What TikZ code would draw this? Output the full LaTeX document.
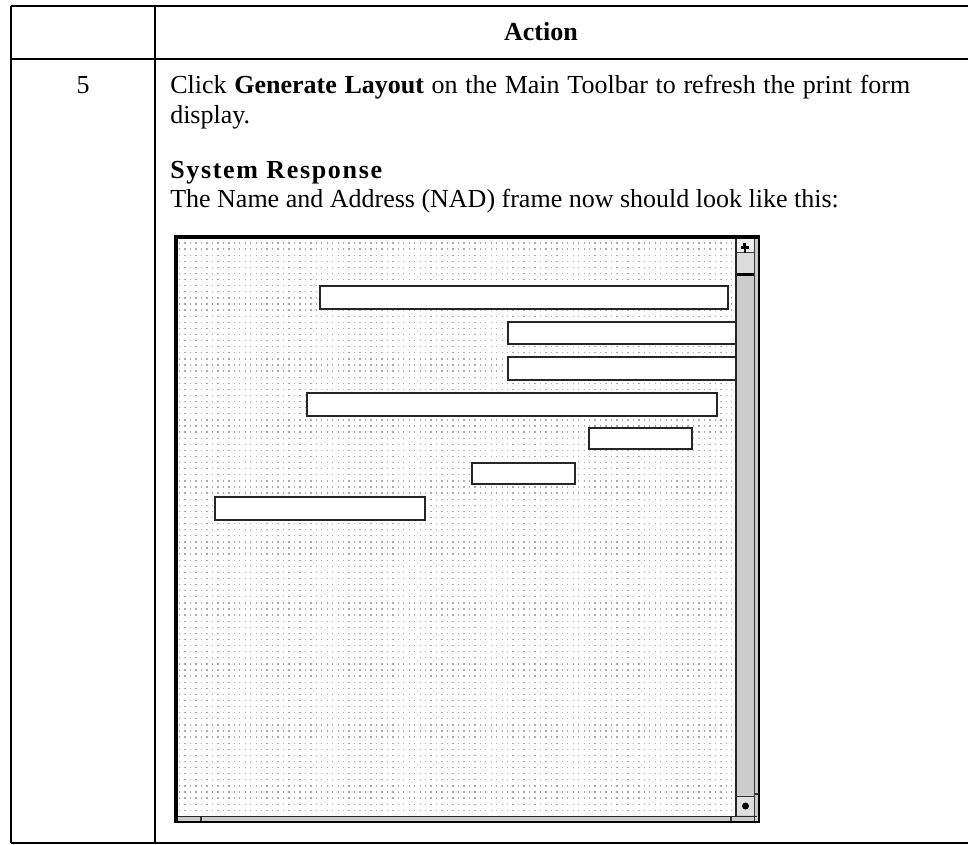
\documentclass[tikz,border=0pt]{standalone}
\usepackage{fontspec}
\setmainfont{Liberation Serif}
\newfontfamily\sysfont[LetterSpace=6.5]{Liberation Serif}
\begin{document}
\begin{tikzpicture}[x=0.75pt,y=-0.75pt,
  tbl/.style={line width=1.5pt,black},
  fld/.style={draw=black!85,line width=1.5pt,fill=white},
  dotrow/.style={gray!65,line width=1pt,dash pattern=on 1pt off 3.1pt},
  txt/.style={anchor=base west,inner sep=0pt},
  font=\fontsize{19.5pt}{23pt}\selectfont]
\useasboundingbox (0,0) rectangle (968,844);
% table
\draw[tbl] (11,6) -- (968,6);
\draw[tbl] (11,59) -- (968,59);
\draw[tbl] (11,843) -- (968,843);
\draw[tbl] (11,6) -- (11,843);
\draw[tbl] (155,6) -- (155,843);
% texts
\node[anchor=base,inner sep=0pt,font=\fontsize{19.5pt}{23pt}\selectfont\bfseries] (act) at (541,40) {Action};
\node[anchor=base,inner sep=0pt] (n5) at (83,93) {5};
\node[txt] (l1) at (170,93) {\makebox[555pt][s]{Click \textbf{Generate Layout} on the Main Toolbar to refresh the print form}};
\node[txt] (l2) at (170,123) {display.};
\node[txt,font=\fontsize{19.5pt}{23pt}\sysfont\bfseries] (sr) at (170,178) {System Response};
\node[txt] (l3) at (170,207) {The Name and Address (NAD) frame now should look like this:};
% frame
\fill[white] (175,236) rectangle (759,822);
\foreach \r in {0,...,93}{
  \draw[dotrow] (179,{243+\r*6.1}) -- (735,{243+\r*6.1});
}
% fields
\draw[fld] (320,286) rectangle (728,309);
\draw[fld] (508,322) rectangle (742,344);
\draw[fld] (508,357) rectangle (742,380);
\draw[fld] (307,393) rectangle (717,416);
\draw[fld] (589,428) rectangle (692,449);
\draw[fld] (472,463) rectangle (575,484);
\draw[fld] (215,497) rectangle (425,520);
% scrollbar
\fill[gray!40] (736,238) rectangle (758,818);
\fill[gray!12] (737,238) rectangle (754,252);
\fill[gray!28] (737,252) rectangle (754,273);
\draw[line width=0.9pt,black!75] (737,252.5) -- (754,252.5);
\draw[line width=1.6pt,black] (737,274.5) -- (754,274.5);
\draw[line width=1.5pt,black!85] (736,238) -- (736,817);
\draw[line width=1.2pt,black!80] (754.5,238) -- (754.5,794) -- (758,794);
% up arrow
\fill[black] (743.3,243.3) rectangle (746.2,246.2);
\fill[black] (741,246) rectangle (748.5,249);
\fill[black] (743.5,249) rectangle (746,252.5);
% bottom button
\fill[gray!25] (737,797) rectangle (754,815);
\draw[line width=0.75pt,black!80] (737,796.5) -- (754,796.5);
\fill[black] (745.5,806) circle (3.5);
% bottom strip
\fill[gray!40] (177,816) rectangle (758,821);
\draw[line width=1.2pt,black!85] (177,816.5) -- (757,816.5);
\draw[line width=1pt,black!80] (201,816.5) -- (201,821);
\draw[line width=1pt,black!80] (731,816.5) -- (731,821);
\draw[line width=1pt,black!80] (754.5,794) -- (754.5,821);
% outer border
\draw[line width=1.5pt,black] (175,236) rectangle (759,822);
\draw[line width=2.6pt,black] (176,823) -- (176,237) -- (759,237);
\end{tikzpicture}
\end{document}
